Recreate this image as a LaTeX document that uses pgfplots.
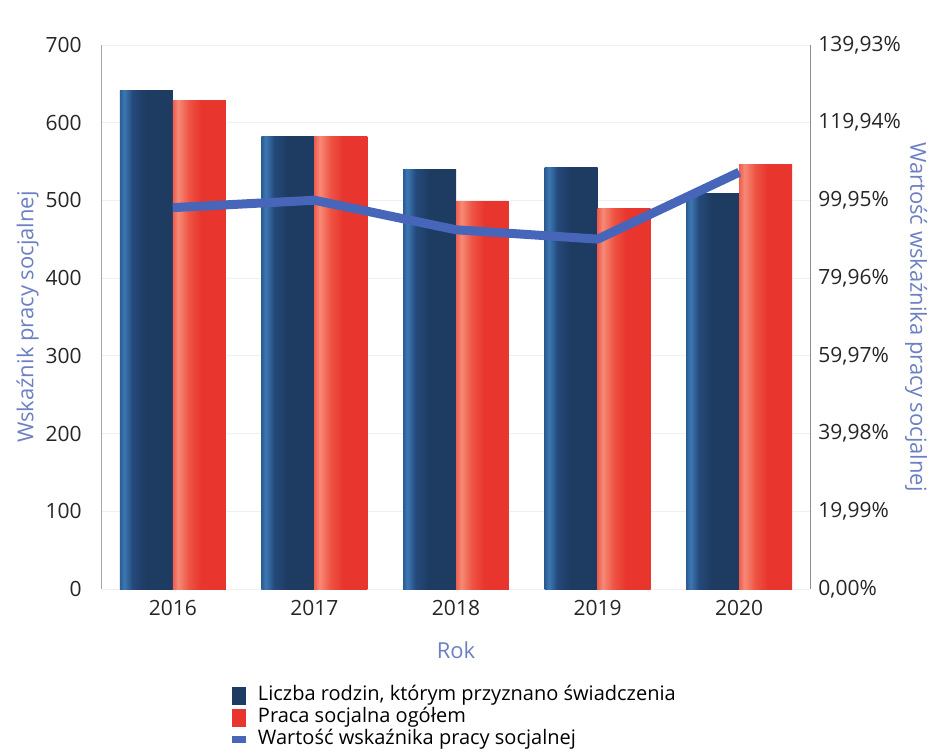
\documentclass[border=0pt]{standalone}
\usepackage{fontspec}
\setmainfont{Open Sans}
\usepackage{pgfplots}
\pgfplotsset{compat=1.18}

\definecolor{navyA}{HTML}{2B5C92}
\definecolor{navyB}{HTML}{3C78B4}
\definecolor{navyM}{HTML}{24497A}
\definecolor{navyC}{HTML}{1E3B61}
\definecolor{redA}{HTML}{EF5E4F}
\definecolor{redB}{HTML}{F68A76}
\definecolor{redM}{HTML}{EE5444}
\definecolor{redC}{HTML}{E8352E}
\definecolor{lineblue}{HTML}{4766BA}
\definecolor{labelblue}{HTML}{6C80C2}

% horizontal gradient inside each bar (25bp..75bp = bar width)
\pgfdeclarehorizontalshading{navybar}{100bp}{color(0bp)=(navyA); color(25bp)=(navyA);
  color(29bp)=(navyB); color(37bp)=(navyM); color(50bp)=(navyC); color(75bp)=(navyC); color(100bp)=(navyC)}
\pgfdeclarehorizontalshading{redbar}{100bp}{color(0bp)=(redA); color(25bp)=(redA);
  color(30bp)=(redB); color(40bp)=(redM); color(52bp)=(redC); color(75bp)=(redC); color(100bp)=(redC)}

\begin{document}
\begin{tikzpicture}
\useasboundingbox (-51pt,-83pt) rectangle (422pt,294.5pt);
\pgfplotsset{
  base/.style={
    scale only axis, width=354pt, height=272pt,
    xmin=-0.5, xmax=4.5, ymin=0,
    major tick length=0pt,
    /pgf/number format/assume math mode=true,
    tick label style={font=\fontsize{10.5}{12}\selectfont, text=black!85},
    label style={font=\fontsize{11}{13}\selectfont, text=labelblue},
  },
  nv/.style={draw=none, shade, shading=navybar, bar shift=-0.187},
  rd/.style={draw=none, shade, shading=redbar, bar shift=0.187},
}
\begin{axis}[base, name=main,
    ymax=700, ytick={0,100,...,700},
    axis y line*=left, axis x line*=bottom,
    y axis line style={draw=black!35, line width=0.5pt},
    x axis line style={draw=none},
    ymajorgrids, grid style={draw=black!6, line width=0.4pt},
    xtick={0,1,2,3,4}, xticklabels={2016,2017,2018,2019,2020},
    yticklabel style={anchor=east, inner sep=0pt, xshift=-10pt},
    xticklabel style={anchor=center, inner sep=0pt, yshift=-9.5pt},
    ylabel={Wskaźnik pracy socjalnej},
    ylabel style={anchor=center, at={(axis description cs:-0.105,0.5)}},
    xlabel={Rok},
    xlabel style={anchor=center, at={(axis description cs:0.5,-0.112)}},
    ybar, bar width=0.374,
  ]
  % Liczba rodzin, którym przyznano świadczenia
  \addplot[nv] coordinates {(0,641)};
  \addplot[nv] coordinates {(1,582)};
  \addplot[nv] coordinates {(2,540)};
  \addplot[nv] coordinates {(3,543)};
  \addplot[nv] coordinates {(4,509)};
  % Praca socjalna ogółem
  \addplot[rd] coordinates {(0,628)};
  \addplot[rd] coordinates {(1,582)};
  \addplot[rd] coordinates {(2,498)};
  \addplot[rd] coordinates {(3,489)};
  \addplot[rd] coordinates {(4,546)};
\end{axis}

\begin{axis}[base,
    ymax=139.93, ytick={0,19.99,39.98,59.97,79.96,99.95,119.94,139.93},
    axis y line*=right, axis x line=none,
    y axis line style={draw=black!45, line width=0.5pt},
    yticklabel={\pgfmathprintnumber[fixed,fixed zerofill,precision=2,use comma]{\tick}\%},
    yticklabel style={anchor=west, inner sep=0pt, xshift=4pt},
    ylabel={Wartość wskaźnika pracy socjalnej},
    ylabel style={anchor=center, rotate=180, at={(axis description cs:1.150,0.5)}},
    legend style={at={(0.1836,-0.178)}, anchor=north west, draw=none, fill=none,
      inner sep=0pt, outer sep=0pt,
      font=\fontsize{10}{12}\selectfont, row sep=1pt,
      nodes={inner sep=0pt, text height=7.5pt, text depth=2.5pt},
      /tikz/every odd column/.append style={column sep=6pt},
      cells={anchor=west}},
    legend cell align=left,
  ]
  \addlegendimage{legend image code/.code={\fill[navyC, draw=none] (0pt,-4.5pt) rectangle (7pt,4.5pt);}}
  \addlegendentry{Liczba rodzin, którym przyznano świadczenia}
  \addlegendimage{legend image code/.code={\fill[redC, draw=none] (0pt,-4.5pt) rectangle (7pt,4.5pt);}}
  \addlegendentry{Praca socjalna ogółem}
  \addplot[lineblue, line width=4.5pt, line join=round,
    legend image code/.code={\fill[lineblue, draw=none, line width=0pt] (0pt,-1.8pt) rectangle (7pt,1.8pt);}]
    coordinates {(0,98.1) (1,100.0) (2,92.4) (3,90.0) (4,107.2)};
  \addlegendentry{Wartość wskaźnika pracy socjalnej}
\end{axis}
\end{tikzpicture}
\end{document}
